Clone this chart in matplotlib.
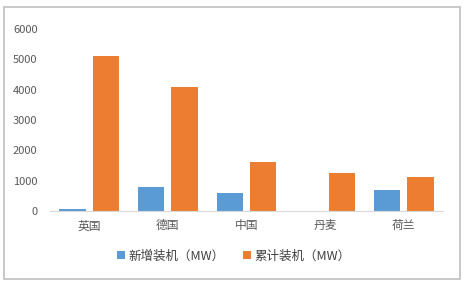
import numpy as np
import matplotlib.pyplot as plt
from matplotlib.patches import Rectangle

plt.rcParams['font.family'] = ['Noto Sans CJK SC', 'DejaVu Sans']

# 数据
countries = ['英国', '德国', '中国', '丹麦', '荷兰']
new_mw = [55, 800, 580, 0, 690]
total_mw = [5120, 4080, 1610, 1260, 1110]
labels = ['新增装机（MW）', '累计装机（MW）']

blue = '#5B9BD5'
orange = '#ED7D31'
gray_text = '#595959'

fig = plt.figure(figsize=(4.68, 2.86), dpi=100)
ax = fig.add_axes([50/468, 1 - 211/286, 393/468, 182/286])

x = np.arange(len(countries))
w = 0.335
ax.bar(x - 0.213, new_mw, w, color=blue, label=labels[0])
ax.bar(x + 0.213, total_mw, w, color=orange, label=labels[1])

ax.set_xlim(-0.5, len(countries) - 0.5)
ax.set_ylim(0, 6000)
ax.set_yticks(range(0, 6001, 1000))
ax.set_xticks(x)
ax.set_xticklabels(countries)
ax.tick_params(axis='both', length=0, colors=gray_text)
ax.tick_params(axis='x', pad=6, labelsize=8.5)
ax.tick_params(axis='y', pad=9, labelsize=8)

for s in ['top', 'right', 'left']:
    ax.spines[s].set_visible(False)
ax.spines['bottom'].set_color('#D9D9D9')
ax.spines['bottom'].set_linewidth(0.8)

fig.legend(loc='center', bbox_to_anchor=(0.5, 1 - 256/286), ncol=2, frameon=False,
           fontsize=9, handlelength=0.6, handleheight=0.6, handletextpad=0.3,
           columnspacing=1.5, labelcolor='#404040')

# 外框
fig.patches.append(Rectangle((4/468, 1 - 279/286), 456/468, 272/286,
                             transform=fig.transFigure, fill=False,
                             edgecolor='#BFBFBF', linewidth=1.2))

fig.savefig('out.png', dpi=100)
